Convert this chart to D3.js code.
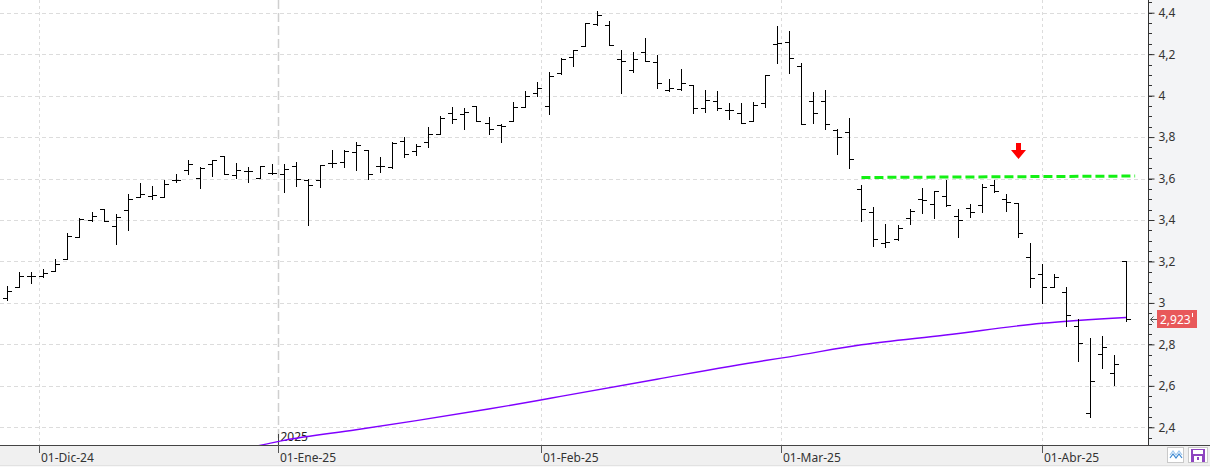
<!DOCTYPE html>
<html>
<head>
<meta charset="utf-8">
<script src="https://cdn.jsdelivr.net/npm/d3@7"></script>
<style>
  body { margin: 0; background: #fff; }
  svg { display: block; font-family: "Segoe UI", "Noto Sans", sans-serif; }
</style>
</head>
<body>
<div id="chart"></div>
<script>

// trading days shown on the chart
var dates = [
  "2024-11-27","2024-11-28","2024-11-29",
  "2024-12-02","2024-12-03","2024-12-04","2024-12-05","2024-12-06",
  "2024-12-09","2024-12-10","2024-12-11","2024-12-12","2024-12-13",
  "2024-12-16","2024-12-17","2024-12-18","2024-12-19","2024-12-20",
  "2024-12-23","2024-12-24","2024-12-27","2024-12-30","2024-12-31",
  "2025-01-02","2025-01-03","2025-01-06","2025-01-07","2025-01-08","2025-01-09","2025-01-10",
  "2025-01-13","2025-01-14","2025-01-15","2025-01-16","2025-01-17",
  "2025-01-20","2025-01-21","2025-01-22","2025-01-23","2025-01-24",
  "2025-01-27","2025-01-28","2025-01-29","2025-01-30","2025-01-31",
  "2025-02-03","2025-02-04","2025-02-05","2025-02-06","2025-02-07",
  "2025-02-10","2025-02-11","2025-02-12","2025-02-13","2025-02-14",
  "2025-02-17","2025-02-18","2025-02-19","2025-02-20","2025-02-21",
  "2025-02-24","2025-02-25","2025-02-26","2025-02-27","2025-02-28",
  "2025-03-03","2025-03-04","2025-03-05","2025-03-06","2025-03-07",
  "2025-03-10","2025-03-11","2025-03-12","2025-03-13","2025-03-14",
  "2025-03-17","2025-03-18","2025-03-19","2025-03-20","2025-03-21",
  "2025-03-24","2025-03-25","2025-03-26","2025-03-27","2025-03-28","2025-03-31",
  "2025-04-01","2025-04-02","2025-04-03","2025-04-04",
  "2025-04-07","2025-04-08","2025-04-09","2025-04-10"
];

var open = [3.025,3.075,3.13,3.13,3.152,3.213,3.319,3.402,3.454,3.369,3.446,3.512,3.518,3.509,3.592,3.64,3.605,3.669,3.708,3.619,3.637,3.605,3.627,
  3.621,3.661,3.592,3.593,3.673,3.678,3.726,3.737,3.66,3.657,3.779,3.734,3.774,3.817,3.917,3.909,3.949,3.866,3.856,3.877,3.946,4.015,
  3.949,4.11,4.187,4.241,4.347,4.342,4.179,4.126,4.21,4.162,4.029,4.034,4.05,3.938,3.973,3.933,3.914,3.877,3.962,4.251,
  4.26,4.142,3.973,3.973,3.833,3.824,3.548,3.44,3.287,3.306,3.408,3.5,3.476,3.516,3.419,3.456,3.471,3.569,3.502,3.481,3.221,
  3.14,3.079,3.054,2.891,2.468,2.754,2.661,3.2];
var high = [3.08,3.15,3.15,3.163,3.21,3.335,3.409,3.44,3.454,3.431,3.525,3.58,3.563,3.595,3.624,3.688,3.656,3.691,3.708,3.677,3.656,3.661,3.669,
  3.672,3.679,3.598,3.665,3.737,3.74,3.777,3.737,3.702,3.774,3.798,3.769,3.85,3.902,3.946,3.941,3.949,3.898,3.862,3.967,4.02,4.068,
  4.114,4.182,4.222,4.352,4.408,4.358,4.222,4.21,4.28,4.198,4.081,4.13,4.05,4.026,4.021,3.962,3.962,3.97,4.101,4.334,
  4.31,4.158,4.018,4.026,3.837,3.892,3.569,3.461,3.381,3.376,3.452,3.553,3.54,3.594,3.453,3.477,3.573,3.594,3.524,3.481,3.288,
  3.189,3.14,3.076,2.922,2.83,2.841,2.75,3.2];
var low = [3.014,3.075,3.098,3.127,3.152,3.213,3.316,3.396,3.395,3.285,3.354,3.51,3.499,3.509,3.582,3.621,3.555,3.613,3.624,3.605,3.584,3.605,3.621,
  3.536,3.566,3.374,3.56,3.657,3.654,3.641,3.596,3.633,3.649,3.702,3.713,3.75,3.817,3.869,3.841,3.878,3.813,3.774,3.877,3.946,3.997,
  3.909,4.106,4.145,4.24,4.339,4.246,4.013,4.114,4.167,4.039,4.023,4.026,3.917,3.922,3.933,3.885,3.87,3.877,3.943,4.158,
  4.109,3.861,3.869,3.837,3.719,3.653,3.397,3.276,3.271,3.303,3.381,3.435,3.411,3.469,3.319,3.413,3.44,3.534,3.444,3.319,3.079,
  3.002,3.076,2.891,2.722,2.449,2.685,2.605,2.915];
var close = [3.056,3.128,3.13,3.146,3.186,3.322,3.407,3.418,3.396,3.415,3.499,3.526,3.523,3.576,3.595,3.672,3.653,3.691,3.624,3.643,3.637,3.66,3.627,
  3.648,3.6,3.571,3.665,3.673,3.732,3.76,3.623,3.66,3.772,3.716,3.756,3.813,3.891,3.888,3.923,3.878,3.837,3.853,3.943,3.997,4.039,
  4.093,4.179,4.222,4.352,4.39,4.246,4.167,4.179,4.167,4.063,4.039,4.063,3.938,3.978,3.938,3.933,3.87,3.957,4.101,4.254,
  4.183,3.861,3.914,3.861,3.798,3.694,3.453,3.306,3.292,3.363,3.444,3.497,3.54,3.473,3.4,3.44,3.558,3.54,3.489,3.335,3.12,
  3.079,3.124,2.941,2.806,2.622,2.786,2.704,2.923];

// moving average (purple), read at a few dates
var maDates  = ["2024-12-27","2025-01-02","2025-01-10","2025-01-17","2025-01-27","2025-01-31","2025-02-04",
                "2025-02-14","2025-02-27","2025-03-03","2025-03-11","2025-03-20","2025-04-01","2025-04-10"];
var maValues = [2.30,2.337,2.388,2.432,2.488,2.528,2.549,2.632,2.722,2.74,2.798,2.845,2.902,2.93];

var yTicks = [2.4, 2.6, 2.8, 3, 3.2, 3.4, 3.6, 3.8, 4, 4.2, 4.4];
var monthDates  = ["2024-12-01","2025-01-01","2025-02-01","2025-03-01","2025-04-01"];
var monthLabels = ["01-Dic-24","01-Ene-25","01-Feb-25","01-Mar-25","01-Abr-25"];
var yearDate = "2025-01-01", yearLabel = "2025";

var lastPrice = 2.923;
// green dashed resistance, in bar units
var resistanceX = [71, 93.75];
var resistanceY = [3.605, 3.612];
// red arrow
var arrowDate = "2025-03-28", arrowValue = 3.696;

var W = 1210, H = 467;
var plotR = 1148, plotB = 445;

var parse = d3.timeParse("%Y-%m-%d");
var days = dates.map(parse);

var x = d3.scaleLinear().domain([0, dates.length - 1]).range([7.3, 1126.1]);
var y = d3.scaleLinear().domain([2.4, 4.4]).range([427.3, 12.7]);

function px(v) { return Math.round(v) + 0.5; }

// fractional bar position of any calendar date
function datePos(s) {
  var t = parse(s);
  var i = d3.bisectLeft(days, t);
  if (i < days.length && +days[i] == +t) return i;
  var a = days[i - 1], b = days[i];
  return (i - 1) + (t - a) / (b - a);
}

var svg = d3.select("#chart").append("svg")
  .attr("width", W)
  .attr("height", H);

// backgrounds
svg.append("rect").attr("width", W).attr("height", H).attr("fill", "#fff");
svg.append("rect").attr("x", plotR).attr("y", 0).attr("width", W - plotR).attr("height", plotB).attr("fill", "#f3f4f6");
svg.append("rect").attr("x", 0).attr("y", plotB).attr("width", W).attr("height", H - plotB).attr("fill", "#f0f0f0");
svg.append("line").attr("x1", 0).attr("x2", W).attr("y1", 465.5).attr("y2", 465.5).attr("stroke", "#e2e2e2");
svg.append("rect").attr("x", 0).attr("y", 466).attr("width", W).attr("height", 1).attr("fill", "#f8f8f8");

svg.append("clipPath").attr("id", "plotclip")
  .append("rect").attr("width", plotR).attr("height", plotB);

var plot = svg.append("g").attr("clip-path", "url(#plotclip)");

// horizontal grid
plot.selectAll(".hgrid")
  .data(yTicks).enter()
  .append("line")
  .attr("x1", 0).attr("x2", plotR)
  .attr("y1", function(d){ return px(y(d)) })
  .attr("y2", function(d){ return px(y(d)) })
  .attr("stroke", "#dcdcdc")
  .attr("stroke-dasharray", "4,3");

// month grid
plot.selectAll(".vgrid")
  .data(monthDates.filter(function(d){ return d != yearDate })).enter()
  .append("line")
  .attr("x1", function(d){ return px(x(datePos(d))) })
  .attr("x2", function(d){ return px(x(datePos(d))) })
  .attr("y1", 0).attr("y2", plotB)
  .attr("stroke", "#dcdcdc")
  .attr("stroke-dasharray", "3,3");

// year separator
var yx = px(x(datePos(yearDate)));
plot.append("line")
  .attr("x1", yx).attr("x2", yx).attr("y1", 0).attr("y2", plotB)
  .attr("stroke", "#cfcfcf")
  .attr("stroke-width", 1.5)
  .attr("stroke-dasharray", "9,4");
plot.append("line")
  .attr("x1", yx).attr("x2", yx).attr("y1", plotB - 11).attr("y2", plotB)
  .attr("stroke", "#444");
plot.append("text")
  .attr("x", yx + 2).attr("y", plotB - 4)
  .attr("font-size", 12).attr("fill", "#222")
  .text(yearLabel);

// moving average
var maLine = d3.line()
  .x(function(d, i){ return x(datePos(maDates[i])) })
  .y(function(d){ return y(d) })
  .curve(d3.curveMonotoneX);

plot.append("path")
  .datum(maValues)
  .attr("d", maLine)
  .attr("fill", "none")
  .attr("stroke", "#8000ff")
  .attr("stroke-width", 1.4);

// OHLC bars
var bars = plot.selectAll(".bar")
  .data(d3.range(dates.length)).enter()
  .append("g")
  .attr("class", "bar")
  .attr("stroke", "#000")
  .attr("stroke-width", 1);

bars.append("line")
  .attr("x1", function(i){ return px(x(i)) })
  .attr("x2", function(i){ return px(x(i)) })
  .attr("y1", function(i){ return Math.round(y(high[i])) })
  .attr("y2", function(i){ return Math.round(y(low[i])) + 1 });

bars.append("line")
  .attr("x1", function(i){ return Math.round(x(i)) - 4 })
  .attr("x2", function(i){ return Math.round(x(i)) })
  .attr("y1", function(i){ return px(y(open[i])) })
  .attr("y2", function(i){ return px(y(open[i])) });

bars.append("line")
  .attr("x1", function(i){ return Math.round(x(i)) + 1 })
  .attr("x2", function(i){ return Math.round(x(i)) + 5 })
  .attr("y1", function(i){ return px(y(close[i])) })
  .attr("y2", function(i){ return px(y(close[i])) });

// resistance
plot.append("line")
  .attr("x1", x(resistanceX[0])).attr("x2", x(resistanceX[1]))
  .attr("y1", y(resistanceY[0])).attr("y2", y(resistanceY[1]))
  .attr("stroke", "#14f014")
  .attr("stroke-width", 3)
  .attr("stroke-dasharray", "9,4");

// red arrow
var ax = Math.round(x(datePos(arrowDate))), ay = Math.round(y(arrowValue));
plot.append("path")
  .attr("d", "M" + (ax - 2) + "," + (ay - 16) + "h5v7h5l-7.5,9l-7.5,-9h5z")
  .attr("fill", "#f00");

// right axis
var yAxis = d3.axisRight(y)
  .tickValues(yTicks)
  .tickSize(6)
  .tickSizeOuter(0)
  .tickPadding(4)
  .tickFormat(function(d){ return d3.format("~g")(d).replace(".", ",") });

var ya = svg.append("g")
  .attr("transform", "translate(" + (plotR + 0.5) + ",0)")
  .call(yAxis);
ya.select(".domain").remove();
ya.selectAll("line").attr("stroke", "#333");
ya.selectAll("text").attr("font-size", 12).attr("fill", "#333").attr("font-family", "Segoe UI, Noto Sans, sans-serif");

svg.selectAll(".minor")
  .data(d3.range(2.35, 4.46, 0.05)).enter()
  .append("line")
  .attr("x1", plotR).attr("x2", plotR + 4)
  .attr("y1", function(d){ return px(y(d)) })
  .attr("y2", function(d){ return px(y(d)) })
  .attr("stroke", "#333");

svg.append("line")
  .attr("x1", plotR + 0.5).attr("x2", plotR + 0.5)
  .attr("y1", 0).attr("y2", plotB)
  .attr("stroke", "#333");

// bottom axis
svg.append("line")
  .attr("x1", 0).attr("x2", W)
  .attr("y1", plotB + 0.5).attr("y2", plotB + 0.5)
  .attr("stroke", "#444");

var xt = svg.selectAll(".xtick")
  .data(monthDates).enter()
  .append("g")
  .attr("transform", function(d){ return "translate(" + px(x(datePos(d))) + ",0)" });

xt.append("line")
  .attr("y1", plotB).attr("y2", plotB + 8)
  .attr("stroke", "#555");

xt.append("text")
  .attr("x", 1.5).attr("y", 462)
  .attr("font-size", 12).attr("fill", "#333")
  .text(function(d, i){ return monthLabels[i] });

// last price label
var ly = Math.round(y(lastPrice));
svg.append("rect")
  .attr("x", 1157).attr("y", ly - 9).attr("width", 40).attr("height", 18)
  .attr("fill", "#e8585a");
svg.append("text")
  .attr("x", 1160).attr("y", ly + 4.5)
  .attr("font-size", 12).attr("fill", "#fff")
  .text(d3.format(".3f")(lastPrice).replace(".", ","));
svg.append("rect")
  .attr("x", 1192).attr("y", ly - 6).attr("width", 1).attr("height", 4)
  .attr("fill", "#fff");
svg.append("path")
  .attr("d", "M1157," + (ly + 0.5) + "H1150.5M1153.5," + (ly - 2.5) + "L1150.5," + (ly + 0.5) + "L1153.5," + (ly + 3.5))
  .attr("fill", "none")
  .attr("stroke", "#555");

// small buttons bottom right
svg.append("rect")
  .attr("x", 1167.5).attr("y", 447.5).attr("width", 16).attr("height", 15)
  .attr("fill", "#fff").attr("stroke", "#c9c9c9");
svg.append("polyline")
  .attr("points", "1170,455 1173,451 1176,455 1179,451 1182,455")
  .attr("fill", "none").attr("stroke", "#9cc6ee").attr("stroke-width", 1.2);
svg.append("polyline")
  .attr("points", "1170,458 1173,454 1176,458 1179,454 1182,458")
  .attr("fill", "none").attr("stroke", "#3a86d0").attr("stroke-width", 1.2);

svg.append("rect")
  .attr("x", 1188.5).attr("y", 447.5).attr("width", 19).attr("height", 15)
  .attr("fill", "#fff").attr("stroke", "#c9c9c9");
svg.append("rect")
  .attr("x", 1191).attr("y", 449).attr("width", 14).attr("height", 13)
  .attr("fill", "#8e44c0");
svg.append("rect")
  .attr("x", 1193).attr("y", 450).attr("width", 10).attr("height", 4)
  .attr("fill", "#fff");
svg.append("rect")
  .attr("x", 1194).attr("y", 456).attr("width", 8).attr("height", 6)
  .attr("fill", "#fff");
svg.append("rect")
  .attr("x", 1197).attr("y", 457).attr("width", 2).attr("height", 3)
  .attr("fill", "#8e44c0");

</script>
</body>
</html>
